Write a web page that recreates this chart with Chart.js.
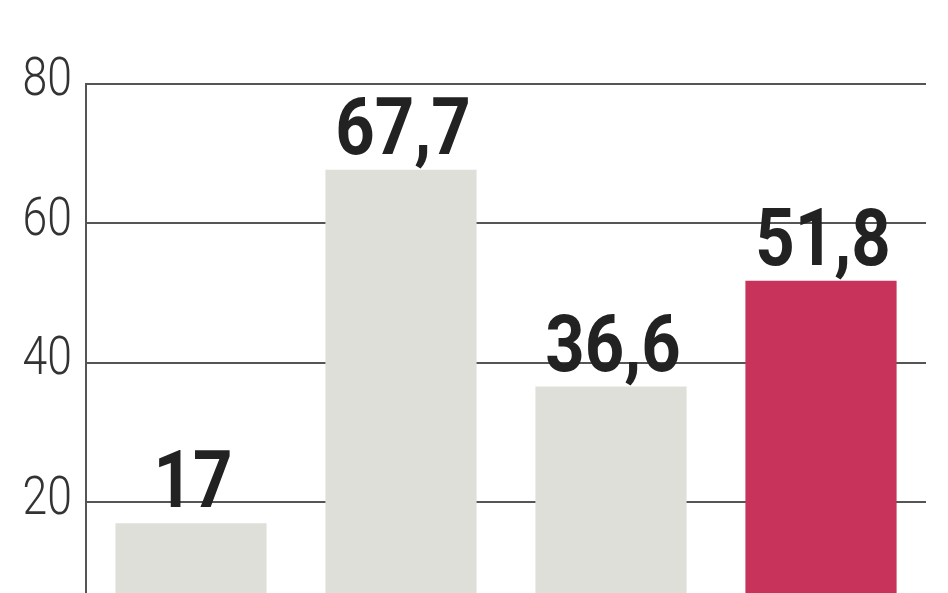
<!DOCTYPE html>
<html>
<head>
<meta charset="utf-8">
<script src="https://cdn.jsdelivr.net/npm/chart.js@4.4.1/dist/chart.umd.min.js"></script>
<style>
  html, body { margin: 0; padding: 0; background: #fff; }
  #wrap { width: 948px; height: 593px; }
</style>
</head>
<body>
<div id="wrap"><canvas id="main_chart"></canvas></div>
<script>
// chart data
const categories = ["A", "B", "C", "D"];
const values = [17, 67.7, 36.6, 51.8];
const barColors = ["#dfdfd9", "#dfdfd9", "#dfdfd9", "#c8335c"];
const yTicks = [20, 40, 60, 80];

// condensed look: draw text squeezed horizontally
function narrowText(ctx, text, x, y, sx, align) {
    ctx.save();
    ctx.translate(x, y);
    ctx.scale(sx, 1);
    ctx.textAlign = align;
    ctx.fillText(text, 0, 0);
    ctx.restore();
}

// y tick labels + value labels above bars (decimal comma)
const labelsPlugin = {
    id: "labelsPlugin",
    afterDatasetsDraw(chart) {
        const ctx = chart.ctx;
        const y = chart.scales.y;
        ctx.save();
        ctx.font = "300 53px Roboto, sans-serif";
        ctx.fillStyle = "#333";
        ctx.textBaseline = "middle";
        yTicks.forEach(v => {
            narrowText(ctx, String(v), y.right - 14, y.getPixelForValue(v) - 2, 0.84, "right");
        });

        ctx.font = "bold 80px Roboto, sans-serif";
        ctx.fillStyle = "#222";
        ctx.textBaseline = "alphabetic";
        chart.getDatasetMeta(0).data.forEach((bar, i) => {
            narrowText(ctx, String(values[i]).replace(".", ","), bar.x + 2, bar.y - 16, 0.86, "center");
        });
        ctx.restore();
    }
};

let chart1 = new Chart(document.getElementById("main_chart"), {
    type: "bar",
    data: {
        labels: categories,
        datasets: [{
            data: values,
            backgroundColor: barColors,
            borderWidth: 0,
            categoryPercentage: 1,
            barPercentage: 0.72
        }]
    },
    options: {
        responsive: true,
        maintainAspectRatio: false,
        animation: false,
        layout: { padding: { top: 84, right: 22, bottom: 0, left: 0 } },
        plugins: { legend: { display: false }, tooltip: { enabled: false } },
        scales: {
            x: { display: false },
            y: {
                min: 7,
                max: 80,
                afterBuildTicks: (axis) => { axis.ticks = yTicks.map(v => ({ value: v })); },
                afterFit: (axis) => {
                    axis.width = 86;
                    axis.paddingTop = 0;
                    axis.paddingBottom = 0;
                },
                border: { display: true, color: "#555", width: 2 },
                grid: { color: "#555", lineWidth: 2, drawTicks: false },
                ticks: { display: false }
            }
        }
    },
    plugins: [labelsPlugin]
});
</script>
</body>
</html>
